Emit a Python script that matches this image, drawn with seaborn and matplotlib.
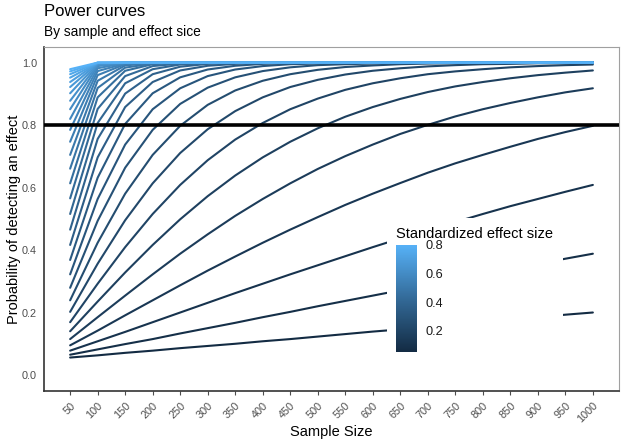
import matplotlib
matplotlib.use("Agg")
import matplotlib.pyplot as plt
import matplotlib.cm as cm
from matplotlib.colors import LinearSegmentedColormap, Normalize
import pandas as pd
import seaborn as sns

# ---------------- data ----------------
sample_sizes = [50, 100, 150, 200, 250, 300, 350, 400, 450, 500,
                550, 600, 650, 700, 750, 800, 850, 900, 950, 1000]
x_tick_labels = [str(v) for v in sample_sizes]
y_ticks = [0.0, 0.2, 0.4, 0.6, 0.8, 1.0]
y_tick_labels = ["0.0", "0.2", "0.4", "0.6", "0.8", "1.0"]
threshold = 0.8

effect_sizes = [0.05, 0.075, 0.1, 0.125, 0.15, 0.175, 0.2, 0.225, 0.25, 0.275,
                0.3, 0.325, 0.35, 0.375, 0.4, 0.425, 0.45, 0.475, 0.5, 0.525,
                0.55, 0.575, 0.6, 0.625, 0.65, 0.675, 0.7, 0.725, 0.75, 0.775, 0.8]

power_050 = [0.057, 0.064, 0.072, 0.079, 0.087, 0.094, 0.101, 0.109, 0.116, 0.124,
             0.132, 0.140, 0.147, 0.155, 0.162, 0.170, 0.178, 0.186, 0.194, 0.201]
power_075 = [0.066, 0.083, 0.100, 0.116, 0.134, 0.151, 0.168, 0.186, 0.203, 0.221,
             0.238, 0.255, 0.272, 0.289, 0.306, 0.323, 0.340, 0.356, 0.373, 0.389]
power_100 = [0.079, 0.109, 0.139, 0.170, 0.201, 0.232, 0.263, 0.293, 0.323, 0.352,
             0.381, 0.410, 0.438, 0.465, 0.490, 0.516, 0.541, 0.564, 0.587, 0.609]
power_125 = [0.096, 0.143, 0.192, 0.240, 0.288, 0.335, 0.380, 0.424, 0.466, 0.506,
             0.545, 0.581, 0.615, 0.648, 0.678, 0.705, 0.731, 0.756, 0.778, 0.798]
power_150 = [0.116, 0.186, 0.255, 0.323, 0.389, 0.451, 0.510, 0.564, 0.614, 0.660,
             0.701, 0.738, 0.772, 0.801, 0.828, 0.851, 0.871, 0.889, 0.905, 0.918]
power_175 = [0.141, 0.236, 0.329, 0.417, 0.499, 0.573, 0.639, 0.697, 0.747, 0.790,
             0.827, 0.858, 0.884, 0.906, 0.924, 0.938, 0.950, 0.960, 0.968, 0.975]
power_200 = [0.170, 0.293, 0.410, 0.516, 0.609, 0.688, 0.754, 0.807, 0.851, 0.885,
             0.913, 0.934, 0.950, 0.963, 0.972, 0.979, 0.985, 0.989, 0.992, 0.994]
power_225 = [0.203, 0.357, 0.496, 0.614, 0.711, 0.787, 0.845, 0.889, 0.922, 0.945,
             0.962, 0.974, 0.982, 0.988, 0.992, 0.995, 0.996, 0.998, 0.998, 0.999]
power_250 = [0.240, 0.424, 0.581, 0.705, 0.798, 0.865, 0.911, 0.942, 0.963, 0.977,
             0.986, 0.991, 0.995, 0.997, 0.998, 0.999, 0.999, 1.000, 1.000, 1.000]
power_275 = [0.280, 0.494, 0.664, 0.785, 0.868, 0.920, 0.953, 0.973, 0.985, 0.992,
             0.995, 0.997, 0.999, 0.999, 1.000, 1.000, 1.000, 1.000, 1.000, 1.000]
power_300 = [0.323, 0.564, 0.738, 0.851, 0.918, 0.957, 0.978, 0.989, 0.995, 0.997,
             0.999, 0.999, 1.000, 1.000, 1.000, 1.000, 1.000, 1.000, 1.000, 1.000]
power_325 = [0.369, 0.632, 0.804, 0.902, 0.953, 0.978, 0.990, 0.996, 0.998, 0.999,
             1.000, 1.000, 1.000, 1.000, 1.000, 1.000, 1.000, 1.000, 1.000, 1.000]
power_350 = [0.417, 0.697, 0.858, 0.938, 0.975, 0.990, 0.996, 0.999, 1.000, 1.000,
             1.000, 1.000, 1.000, 1.000, 1.000, 1.000, 1.000, 1.000, 1.000, 1.000]
power_375 = [0.466, 0.756, 0.901, 0.963, 0.987, 0.996, 0.999, 1.000, 1.000, 1.000,
             1.000, 1.000, 1.000, 1.000, 1.000, 1.000, 1.000, 1.000, 1.000, 1.000]
power_400 = [0.516, 0.807, 0.934, 0.979, 0.994, 0.998, 1.000, 1.000, 1.000, 1.000,
             1.000, 1.000, 1.000, 1.000, 1.000, 1.000, 1.000, 1.000, 1.000, 1.000]
power_425 = [0.566, 0.852, 0.957, 0.989, 0.997, 0.999, 1.000, 1.000, 1.000, 1.000,
             1.000, 1.000, 1.000, 1.000, 1.000, 1.000, 1.000, 1.000, 1.000, 1.000]
power_450 = [0.614, 0.889, 0.974, 0.995, 0.999, 1.000, 1.000, 1.000, 1.000, 1.000,
             1.000, 1.000, 1.000, 1.000, 1.000, 1.000, 1.000, 1.000, 1.000, 1.000]
power_475 = [0.661, 0.919, 0.984, 0.997, 1.000, 1.000, 1.000, 1.000, 1.000, 1.000,
             1.000, 1.000, 1.000, 1.000, 1.000, 1.000, 1.000, 1.000, 1.000, 1.000]
power_500 = [0.705, 0.942, 0.991, 0.999, 1.000, 1.000, 1.000, 1.000, 1.000, 1.000,
             1.000, 1.000, 1.000, 1.000, 1.000, 1.000, 1.000, 1.000, 1.000, 1.000]
power_525 = [0.747, 0.960, 0.995, 1.000, 1.000, 1.000, 1.000, 1.000, 1.000, 1.000,
             1.000, 1.000, 1.000, 1.000, 1.000, 1.000, 1.000, 1.000, 1.000, 1.000]
power_550 = [0.785, 0.973, 0.997, 1.000, 1.000, 1.000, 1.000, 1.000, 1.000, 1.000,
             1.000, 1.000, 1.000, 1.000, 1.000, 1.000, 1.000, 1.000, 1.000, 1.000]
power_575 = [0.820, 0.982, 0.999, 1.000, 1.000, 1.000, 1.000, 1.000, 1.000, 1.000,
             1.000, 1.000, 1.000, 1.000, 1.000, 1.000, 1.000, 1.000, 1.000, 1.000]
power_600 = [0.851, 0.989, 0.999, 1.000, 1.000, 1.000, 1.000, 1.000, 1.000, 1.000,
             1.000, 1.000, 1.000, 1.000, 1.000, 1.000, 1.000, 1.000, 1.000, 1.000]
power_625 = [0.878, 0.993, 1.000, 1.000, 1.000, 1.000, 1.000, 1.000, 1.000, 1.000,
             1.000, 1.000, 1.000, 1.000, 1.000, 1.000, 1.000, 1.000, 1.000, 1.000]
power_650 = [0.902, 0.996, 1.000, 1.000, 1.000, 1.000, 1.000, 1.000, 1.000, 1.000,
             1.000, 1.000, 1.000, 1.000, 1.000, 1.000, 1.000, 1.000, 1.000, 1.000]
power_675 = [0.922, 0.998, 1.000, 1.000, 1.000, 1.000, 1.000, 1.000, 1.000, 1.000,
             1.000, 1.000, 1.000, 1.000, 1.000, 1.000, 1.000, 1.000, 1.000, 1.000]
power_700 = [0.938, 0.999, 1.000, 1.000, 1.000, 1.000, 1.000, 1.000, 1.000, 1.000,
             1.000, 1.000, 1.000, 1.000, 1.000, 1.000, 1.000, 1.000, 1.000, 1.000]
power_725 = [0.952, 0.999, 1.000, 1.000, 1.000, 1.000, 1.000, 1.000, 1.000, 1.000,
             1.000, 1.000, 1.000, 1.000, 1.000, 1.000, 1.000, 1.000, 1.000, 1.000]
power_750 = [0.963, 1.000, 1.000, 1.000, 1.000, 1.000, 1.000, 1.000, 1.000, 1.000,
             1.000, 1.000, 1.000, 1.000, 1.000, 1.000, 1.000, 1.000, 1.000, 1.000]
power_775 = [0.972, 1.000, 1.000, 1.000, 1.000, 1.000, 1.000, 1.000, 1.000, 1.000,
             1.000, 1.000, 1.000, 1.000, 1.000, 1.000, 1.000, 1.000, 1.000, 1.000]
power_800 = [0.979, 1.000, 1.000, 1.000, 1.000, 1.000, 1.000, 1.000, 1.000, 1.000,
             1.000, 1.000, 1.000, 1.000, 1.000, 1.000, 1.000, 1.000, 1.000, 1.000]

curves = [power_050, power_075, power_100, power_125, power_150, power_175,
          power_200, power_225, power_250, power_275, power_300, power_325,
          power_350, power_375, power_400, power_425, power_450, power_475,
          power_500, power_525, power_550, power_575, power_600, power_625,
          power_650, power_675, power_700, power_725, power_750, power_775,
          power_800]

rows = []
for d, vals in zip(effect_sizes, curves):
    for n, p in zip(sample_sizes, vals):
        rows.append((n, p, d))
df = pd.DataFrame(rows, columns=["n", "power", "effect"])

# ---------------- style ----------------
sns.set_theme(style="white")
plt.rcParams["font.family"] = ["Liberation Sans", "DejaVu Sans"]

W, H = 625, 442
fig = plt.figure(figsize=(W / 100, H / 100), dpi=100)
fig.patch.set_facecolor("white")

def fx(px):
    return px / W

def fy(py):
    return 1 - py / H

L, R, T, B = 44, 619, 47, 391
ax = fig.add_axes([fx(L), fy(B), fx(R - L), (B - T) / H])

cmap = LinearSegmentedColormap.from_list("gg", ["#132B43", "#336A98", "#56B1F7"])
norm = Normalize(min(effect_sizes), max(effect_sizes))

sns.lineplot(data=df, x="n", y="power", hue="effect", palette=cmap,
             hue_norm=norm, legend=False, ax=ax, linewidth=1.5,
             estimator=None, sort=True)

ax.axhline(threshold, color="black", linewidth=2.6, zorder=5)

ax.set_xlim(2.5, 1047.5)
ax.set_ylim(-0.05, 1.05)
ax.set_xticks(sample_sizes)
ax.set_xticklabels(x_tick_labels, rotation=45, ha="right", va="top",
                   rotation_mode="anchor", color="#4D4D4D", fontsize=7.8)
ax.set_yticks(y_ticks)
ax.set_yticklabels(y_tick_labels, color="#4D4D4D", fontsize=7.8)
ax.tick_params(axis="x", length=3, width=0.8, color="#4D4D4D", pad=4, bottom=True)
ax.tick_params(axis="y", length=0, pad=5, left=True)

for side in ["left", "bottom"]:
    ax.spines[side].set_color("#333333")
    ax.spines[side].set_linewidth(1.2)
for side in ["top", "right"]:
    ax.spines[side].set_color("#A0A0A0")
    ax.spines[side].set_linewidth(0.8)

ax.set_xlabel("Sample Size", fontsize=10.5, color="black")
ax.set_ylabel("Probability of detecting an effect", fontsize=10.5, color="black")
ax.xaxis.set_label_coords(0.5, (B - 432) / (B - T))
ax.xaxis.label.set_va("center")
ax.yaxis.set_label_coords((14 - L) / (R - L), 0.5)
ax.yaxis.label.set_va("center")

fig.text(fx(44), fy(16.5), "Power curves", fontsize=12, color="black", va="baseline")
fig.text(fx(44), fy(36), "By sample and effect sice", fontsize=9.9, color="black", va="baseline")

# ---------------- legend (inside panel) ----------------
bg = fig.add_axes([fx(387), fy(360), fx(176), 142 / H])
bg.set_facecolor("white")
bg.set_xticks([])
bg.set_yticks([])
for s in bg.spines.values():
    s.set_visible(False)

fig.text(fx(396), fy(238), "Standardized effect size", fontsize=10.5,
         color="black", va="baseline")

cax = fig.add_axes([fx(396), fy(352), fx(21), 107 / H])
sm = cm.ScalarMappable(norm=norm, cmap=cmap)
cb = fig.colorbar(sm, cax=cax, ticks=[0.2, 0.4, 0.6, 0.8])
cb.outline.set_visible(False)
cb.ax.set_yticklabels(["0.2", "0.4", "0.6", "0.8"], fontsize=9.2, color="#1A1A1A")
cb.ax.tick_params(axis="y", direction="in", length=4, width=0.8, color="white",
                  left=True, right=True, labelleft=False, labelright=True, pad=6)

fig.savefig("out.png", dpi=100, facecolor="white")
